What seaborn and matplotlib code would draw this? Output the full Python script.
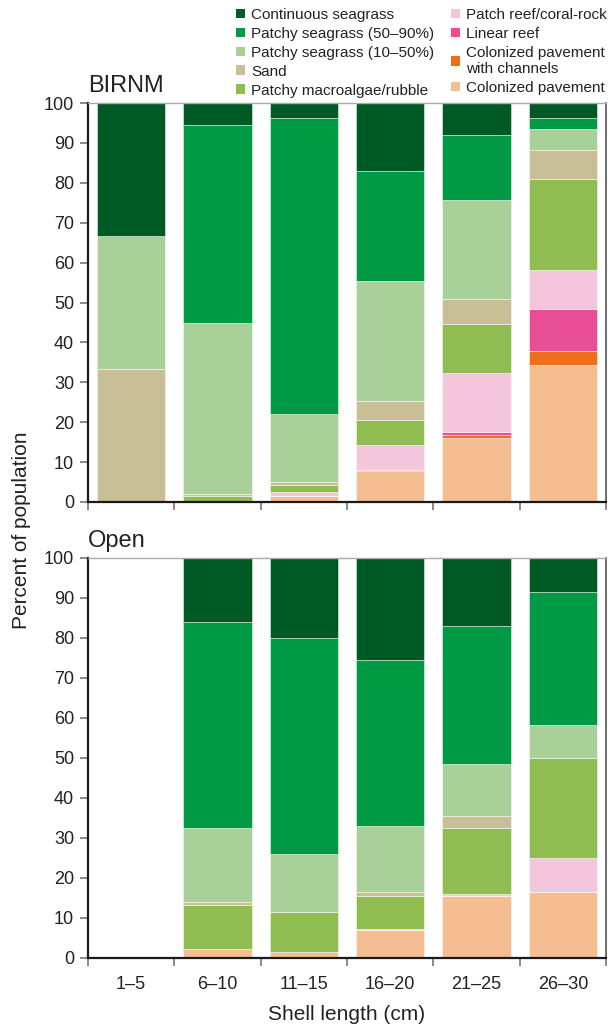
import numpy as np
import pandas as pd
import matplotlib
matplotlib.use("Agg")
import matplotlib.pyplot as plt
from matplotlib.patches import Patch
import seaborn as sns

# Shell-length classes
sizes = ["1\u20135", "6\u201310", "11\u201315", "16\u201320", "21\u201325", "26\u201330"]

# Habitat classes, top of each stack first
habitats = [
    "Continuous seagrass",
    "Patchy seagrass (50\u201390%)",
    "Patchy seagrass (10\u201350%)",
    "Sand",
    "Patchy macroalgae/rubble",
    "Patch reef/coral-rock",
    "Linear reef",
    "Colonized pavement\nwith channels",
    "Colonized pavement",
]
colors = ["#005a24", "#009a44", "#a8d098", "#c8bf97", "#8fbd52",
          "#f3c6db", "#e84e96", "#ee6e1a", "#f5bd92"]

# Percent of population per habitat, BIRNM
birnm_continuous = [33.3, 5.4, 3.8, 17.0, 8.0, 3.8]
birnm_patchy_50_90 = [0.0, 49.8, 74.1, 27.6, 16.2, 2.7]
birnm_patchy_10_50 = [33.4, 42.8, 17.2, 30.1, 24.9, 5.4]
birnm_sand = [33.3, 0.4, 0.6, 4.7, 6.4, 7.1]
birnm_macroalgae = [0.0, 1.6, 1.9, 6.3, 12.2, 22.9]
birnm_patch_reef = [0.0, 0.0, 1.0, 6.3, 14.8, 9.7]
birnm_linear_reef = [0.0, 0.0, 0.0, 0.0, 0.6, 10.6]
birnm_pavement_channels = [0.0, 0.0, 0.0, 0.3, 0.9, 3.5]
birnm_pavement = [0.0, 0.0, 1.4, 7.7, 16.0, 34.3]

# Percent of population per habitat, Open
open_continuous = [0.0, 16.1, 20.1, 25.5, 17.0, 8.4]
open_patchy_50_90 = [0.0, 51.5, 53.8, 41.5, 34.5, 33.3]
open_patchy_10_50 = [0.0, 18.4, 14.5, 16.4, 13.1, 8.3]
open_sand = [0.0, 0.8, 0.2, 1.1, 2.8, 0.0]
open_macroalgae = [0.0, 11.0, 9.9, 8.2, 16.5, 25.1]
open_patch_reef = [0.0, 0.0, 0.0, 0.3, 0.6, 8.4]
open_linear_reef = [0.0, 0.0, 0.0, 0.0, 0.0, 0.0]
open_pavement_channels = [0.0, 0.0, 0.0, 0.0, 0.0, 0.0]
open_pavement = [0.0, 2.2, 1.5, 7.0, 15.5, 16.5]

birnm = [birnm_continuous, birnm_patchy_50_90, birnm_patchy_10_50, birnm_sand,
         birnm_macroalgae, birnm_patch_reef, birnm_linear_reef,
         birnm_pavement_channels, birnm_pavement]
open_ = [open_continuous, open_patchy_50_90, open_patchy_10_50, open_sand,
         open_macroalgae, open_patch_reef, open_linear_reef,
         open_pavement_channels, open_pavement]


def long_table(series):
    rows = []
    for hab, vals in zip(habitats, series):
        for s, v in zip(sizes, vals):
            rows.append({"size": s, "habitat": hab, "pct": v})
    df = pd.DataFrame(rows)
    df["size"] = pd.Categorical(df["size"], categories=sizes, ordered=True)
    return df


sns.set_theme(style="ticks")
plt.rcParams["font.family"] = ["Liberation Sans", "DejaVu Sans"]

W, H = 608, 1027
fig = plt.figure(figsize=(W / 100, H / 100), dpi=100)

left, right = 88, 606
panels = [("BIRNM", birnm, 103, 502), ("Open", open_, 558, 958)]

for name, series, top, bottom in panels:
    ax = fig.add_axes([left / W, 1 - bottom / H, (right - left) / W, (bottom - top) / H])
    df = long_table(series)
    sns.histplot(data=df, x="size", hue="habitat", weights="pct",
                 hue_order=habitats, palette=colors, multiple="stack",
                 discrete=True, shrink=0.79, alpha=1.0,
                 edgecolor=(1, 1, 1, 0.55), linewidth=0.6,
                 legend=False, ax=ax)
    ax.set_xlim(-0.5, len(sizes) - 0.5)
    ax.set_ylim(0, 100)
    ax.set_yticks(np.arange(0, 101, 10))
    ax.set_yticklabels([str(v) for v in range(0, 101, 10)], fontsize=13, color="#222222")
    ax.set_xticks(np.arange(-0.5, len(sizes), 1.0))
    ax.set_xticklabels([])
    ax.set_xticks(np.arange(len(sizes)), minor=True)
    if name == "Open":
        ax.set_xticklabels(sizes, minor=True, fontsize=13, color="#222222")
    else:
        ax.set_xticklabels([], minor=True)
    ax.tick_params(axis="x", which="minor", length=0, pad=13)
    ax.tick_params(axis="both", which="major", length=6, width=1.2,
                   color="#777777", pad=4)
    ax.set_xlabel("")
    ax.set_ylabel("")
    for side in ("left", "bottom"):
        ax.spines[side].set_color("#1a1a1a")
        ax.spines[side].set_linewidth(1.6)
    ax.spines["top"].set_color("#aaaaaa")
    ax.spines["top"].set_linewidth(1.0)
    ax.spines["right"].set_color("#555555")
    ax.spines["right"].set_linewidth(1.2)
    ax.spines["top"].set_visible(True)
    ax.spines["right"].set_visible(True)
    fig.text(left / W, 1 - (top - 11) / H, name, fontsize=17, color="#222222",
             ha="left", va="baseline")

fig.text(22 / W, 1 - 530 / H, "Percent of population", rotation=90,
         fontsize=15, color="#222222", ha="center", va="center")
fig.text((left + right) / 2 / W, 1 - 1014 / H, "Shell length (cm)",
         fontsize=15, color="#222222", ha="center", va="center")

handles = [Patch(facecolor=c, edgecolor="none") for c in colors]
fig.legend(handles, habitats, loc="upper right",
           bbox_to_anchor=(607 / W, 1 - 8 / H), ncol=2, frameon=False,
           fontsize=11, handlelength=0.6, handleheight=0.6,
           handletextpad=0.4, labelspacing=0.32, columnspacing=1.1,
           borderpad=0, borderaxespad=0, labelcolor="#222222")

fig.savefig("out.png", dpi=100)
